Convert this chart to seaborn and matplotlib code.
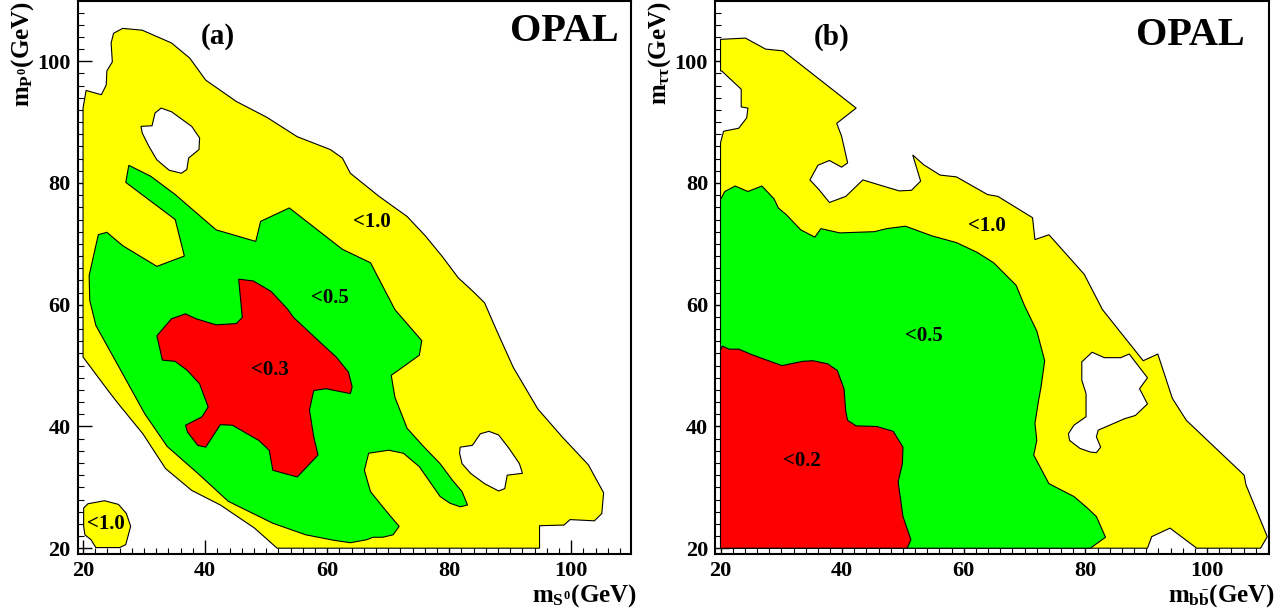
import matplotlib
matplotlib.use("Agg")
import matplotlib.pyplot as plt
import seaborn as sns
from matplotlib.ticker import MultipleLocator

# ── Contours (GeV, GeV) ─────────────────────────────────────────────────
# panel (a): m_S0 vs m_P0
A_YELLOW = [(20, 51.4), (20, 92.3), (20.5, 95.2), (23.0, 94.5), (23.8, 96.1), (23.9, 98.4),
            (24.8, 99.9), (24.6, 103.0), (25.0, 104.6), (26.5, 105.4), (29.7, 105.1),
            (34.5, 103.0), (37.5, 100.5), (40.1, 96.9), (45.1, 93.4), (50.1, 90.8),
            (55.1, 87.6), (60.5, 85.5), (62.5, 84.1), (63.8, 81.6), (68.5, 77.8),
            (73.1, 74.5), (76.1, 71.3), (78.8, 68.0), (81.5, 64.4), (84.1, 62.0),
            (85.8, 60.3), (87.8, 55.7), (90.5, 49.7), (94.5, 42.9), (98.5, 38.3),
            (102.8, 33.7), (105.3, 29.1), (105.0, 25.7), (103.8, 24.5), (99.8, 24.7),
            (98.8, 23.8), (94.8, 23.7), (94.8, 20.0), (51.8, 20.0), (48.1, 23.3),
            (42.5, 27.1), (37.8, 29.5), (33.5, 33.1), (29.8, 38.8), (25.8, 43.7),
            (24.1, 45.9)]
A_YELLOW_SMALL = [(20.1, 26.6), (20.8, 27.3), (23.5, 27.8), (25.8, 27.2), (27.1, 25.7),
                  (27.8, 23.6), (27.0, 20.6), (26.0, 20.1), (22.1, 20.1), (21.3, 21.4),
                  (20.3, 22.2), (20.1, 23.6)]
A_HOLE_1 = [(29.5, 89.3), (31.3, 89.4), (31.8, 91.5), (32.8, 92.3), (34.5, 91.7),
            (37.8, 89.3), (39.1, 87.4), (39.0, 85.5), (37.3, 84.1), (37.0, 82.2),
            (36.1, 81.6), (34.1, 82.1), (32.1, 83.8), (30.8, 86.0), (29.7, 88.2)]
A_HOLE_2 = [(81.8, 36.6), (83.8, 36.9), (85.1, 38.8), (86.5, 39.2), (88.1, 38.6),
            (89.8, 36.4), (91.5, 33.9), (92.0, 32.3), (89.5, 32.0), (89.1, 29.8),
            (88.1, 29.4), (85.8, 30.6), (83.5, 32.3), (82.1, 33.9), (81.7, 35.6)]
A_GREEN = [(21.0, 64.8), (22.5, 71.5), (23.9, 71.9), (26.5, 69.7), (32.1, 66.3),
           (36.6, 68.0), (35.1, 74.0), (27.0, 80.1), (27.5, 82.9), (31.1, 81.1),
           (35.1, 78.1), (41.8, 72.3), (48.3, 70.4), (49.1, 73.7), (53.8, 75.9),
           (62.5, 69.1), (67.1, 66.9), (71.1, 59.2), (75.5, 54.1), (75.1, 51.7),
           (70.5, 48.4), (71.1, 44.8), (73.1, 39.7), (75.8, 36.7), (78.5, 33.9),
           (80.5, 31.2), (82.1, 29.3), (83.0, 27.1), (81.8, 26.8), (80.1, 27.4),
           (78.5, 28.5), (75.1, 33.4), (72.5, 35.6), (70.1, 36.1), (66.8, 35.6),
           (66.1, 32.8), (67.1, 29.3), (69.1, 26.8), (71.1, 24.4), (71.8, 23.6),
           (70.8, 22.2), (69.1, 21.8), (67.5, 21.8), (66.5, 21.4), (63.8, 20.9),
           (61.1, 21.3), (56.5, 22.2), (51.1, 24.1), (43.8, 27.7), (38.8, 32.3),
           (33.8, 36.7), (30.1, 42.1), (26.8, 48.1), (22.1, 56.6), (21.1, 60.7)]
A_RED = [(45.5, 64.2), (47.9, 63.9), (50.8, 62.2), (53.5, 59.3), (54.5, 57.9),
         (59.1, 53.6), (61.5, 51.4), (63.5, 48.9), (64.1, 46.5), (63.8, 45.4),
         (59.8, 46.2), (57.8, 45.9), (57.1, 42.7), (57.8, 38.3), (58.5, 35.3),
         (55.1, 31.7), (51.1, 32.8), (50.5, 36.1), (48.8, 37.7), (44.5, 40.2),
         (42.5, 40.3), (40.1, 36.6), (38.8, 36.9), (37.1, 39.1), (36.8, 40.2),
         (39.5, 41.6), (40.5, 43.2), (39.1, 47.0), (37.1, 49.2), (35.1, 50.7),
         (33.0, 50.9), (32.1, 54.9), (34.5, 57.7), (36.8, 58.5), (38.5, 57.7),
         (41.8, 56.7), (45.1, 56.9), (46.1, 57.9)]

# panel (b): m_bb vs m_tautau
B_YELLOW = [(20, 103.6), (24.1, 103.8), (27.4, 102.0), (30.3, 101.7), (42.3, 92.3),
            (39.1, 89.8), (39.9, 87.7), (40.9, 83.3), (39.9, 82.6), (37.9, 83.7),
            (36.0, 82.9), (34.7, 80.5), (36.2, 78.9), (37.9, 76.8), (40.6, 77.8),
            (43.4, 80.5), (46.7, 79.5), (49.4, 78.7), (51.4, 78.8), (52.9, 80.3),
            (51.6, 84.6), (53.4, 83.0), (56.1, 81.3), (58.8, 81.0), (63.9, 78.1),
            (65.6, 77.8), (71.3, 74.3), (71.7, 70.7), (74.0, 71.5), (79.8, 65.0),
            (82.8, 59.2), (89.5, 50.8), (91.9, 51.9), (94.3, 44.6), (96.6, 41.0),
            (106.1, 32.0), (106.4, 30.4), (109.9, 21.9), (108.8, 20.0), (98.3, 20.0),
            (93.9, 23.3), (90.9, 21.9), (90.2, 20.0), (20, 20), (20, 86.6),
            (20.5, 88.5), (23.0, 89.0), (24.3, 90.7), (24.5, 92.3), (23.4, 92.5),
            (23.4, 95.4), (20.2, 98.4), (20, 98.4)]
B_HOLE = [(81.1, 52.2), (83.1, 51.3), (85.8, 51.3), (87.2, 51.9), (90.2, 48.0),
          (88.9, 46.2), (90.2, 43.7), (88.2, 41.8), (86.5, 41.3), (82.1, 39.4),
          (81.8, 38.3), (82.5, 36.6), (81.8, 35.7), (80.8, 35.8), (79.1, 36.4),
          (77.4, 37.7), (77.2, 38.8), (78.1, 40.2), (80.1, 41.6), (80.1, 45.4),
          (79.4, 47.6), (79.4, 50.6)]
B_GREEN = [(20.0, 77.3), (20.7, 78.6), (22.4, 79.5), (24.5, 78.6), (26.8, 79.5),
           (28.8, 77.4), (29.5, 75.9), (30.8, 74.8), (33.2, 72.3), (35.5, 71.1),
           (36.5, 72.5), (39.6, 71.8), (45.3, 72.0), (47.3, 72.5), (50.4, 72.9),
           (54.8, 71.3), (58.8, 70.2), (62.2, 68.6), (64.9, 66.9), (68.6, 63.2),
           (70.0, 59.8), (72.0, 55.7), (73.3, 50.8), (72.7, 46.5), (72.3, 44.3),
           (71.7, 40.5), (72.0, 37.7), (71.5, 35.3), (74.0, 30.6), (78.1, 28.5),
           (80.1, 26.8), (81.8, 25.2), (83.3, 21.8), (80.8, 20.0), (20, 20)]
B_RED = [(20.0, 52.5), (20.3, 53.2), (21.4, 52.7), (23.0, 52.7), (25.4, 51.7),
         (30.1, 50.0), (33.5, 50.7), (35.2, 50.8), (37.6, 50.3), (39.2, 49.2),
         (40.3, 46.2), (40.6, 42.4), (40.9, 41.0), (42.3, 40.1), (45.7, 40.0),
         (48.4, 39.2), (50.0, 36.6), (49.9, 33.9), (49.2, 30.9), (50.0, 25.2),
         (51.3, 21.4), (50.7, 20.0), (20, 20)]

# contour labels: (text, x, y)
A_LABELS = [("<1.0", 67.3, 73.6), ("<0.5", 60.4, 61.1), ("<0.3", 50.6, 49.3), ("<1.0", 23.8, 24.0)]
B_LABELS = [("<1.0", 63.8, 73.0), ("<0.5", 53.4, 54.9), ("<0.2", 33.4, 34.3)]

YELLOW, GREEN, RED = "#ffff00", "#00ff00", "#ff0000"

sns.set_theme(style="white")
plt.rcParams["font.family"] = ["Liberation Serif", "DejaVu Serif"]
plt.rcParams["font.weight"] = "bold"
plt.rcParams["text.color"] = "black"
plt.rcParams["axes.labelcolor"] = "black"
plt.rcParams["xtick.color"] = "black"
plt.rcParams["ytick.color"] = "black"
plt.rcParams["mathtext.fontset"] = "custom"
plt.rcParams["mathtext.rm"] = "Liberation Serif:bold"
plt.rcParams["mathtext.it"] = "Liberation Serif:bold"
plt.rcParams["mathtext.bf"] = "Liberation Serif:bold"


def poly(ax, pts, color, lw=0.8):
    xs = [p[0] for p in pts]
    ys = [p[1] for p in pts]
    ax.fill(xs, ys, facecolor=color, edgecolor="black", linewidth=lw, zorder=2)


def style_axes(ax, xlim, ylim, xlabel, ylabel, tag):
    ax.set_xlim(*xlim)
    ax.set_ylim(*ylim)
    ax.xaxis.set_major_locator(MultipleLocator(20))
    ax.yaxis.set_major_locator(MultipleLocator(20))
    ax.xaxis.set_minor_locator(MultipleLocator(2))
    ax.yaxis.set_minor_locator(MultipleLocator(2))
    ax.tick_params(which="both", direction="in", bottom=True, left=True, top=False, right=False,
                   color="black", labelcolor="black", zorder=5)
    ax.tick_params(which="major", length=10, width=1.0, labelsize=16, pad=5)
    ax.tick_params(which="minor", length=4.5, width=0.8)
    for lab in ax.get_xticklabels() + ax.get_yticklabels():
        lab.set_fontweight("bold")
    for sp in ax.spines.values():
        sp.set_linewidth(1.5)
        sp.set_color("black")
        sp.set_zorder(6)
    ax.text(1.01, -0.075, xlabel, transform=ax.transAxes, ha="right", va="center",
            fontsize=18, fontweight="bold", color="black")
    ax.text(-0.10, 1.0, ylabel, transform=ax.transAxes, ha="center", va="top",
            rotation=90, fontsize=18, fontweight="bold", color="black")
    ax.text(tag[1], tag[2], tag[0], fontsize=21, fontweight="bold", ha="center", va="center",
            color="black", zorder=7)
    ax.text(tag[3], tag[4], "OPAL", fontsize=29, fontweight="bold", ha="center", va="center",
            color="black", zorder=7)


fig = plt.figure(figsize=(12.84, 6.15), dpi=100)
ax_a = fig.add_axes([0.0604, 0.0992, 0.4311, 0.8992])
ax_b = fig.add_axes([0.5569, 0.0992, 0.4315, 0.8992])

# (a)
poly(ax_a, A_YELLOW, YELLOW)
poly(ax_a, A_YELLOW_SMALL, YELLOW)
poly(ax_a, A_HOLE_1, "white")
poly(ax_a, A_HOLE_2, "white")
poly(ax_a, A_GREEN, GREEN)
poly(ax_a, A_RED, RED)
for txt, x, y in A_LABELS:
    ax_a.text(x, y, txt, fontsize=15, fontweight="bold", ha="center", va="center",
              color="black", zorder=7)
style_axes(ax_a, (19.1, 109.8), (19.05, 109.9),
           r"$m_{S^0}$(GeV)", r"$m_{P^0}$(GeV)", ("(a)", 42.1, 104.0, 98.8, 104.9))

# (b)
poly(ax_b, B_YELLOW, YELLOW)
poly(ax_b, B_HOLE, "white")
poly(ax_b, B_GREEN, GREEN)
poly(ax_b, B_RED, RED)
for txt, x, y in B_LABELS:
    ax_b.text(x, y, txt, fontsize=15, fontweight="bold", ha="center", va="center",
              color="black", zorder=7)
style_axes(ax_b, (19.1, 110.2), (19.05, 109.9),
           r"$m_{b\bar{b}}$(GeV)", r"$m_{\tau\tau}$(GeV)", ("(b)", 38.2, 104.0, 97.3, 104.2))

fig.savefig("out.png", dpi=100)
